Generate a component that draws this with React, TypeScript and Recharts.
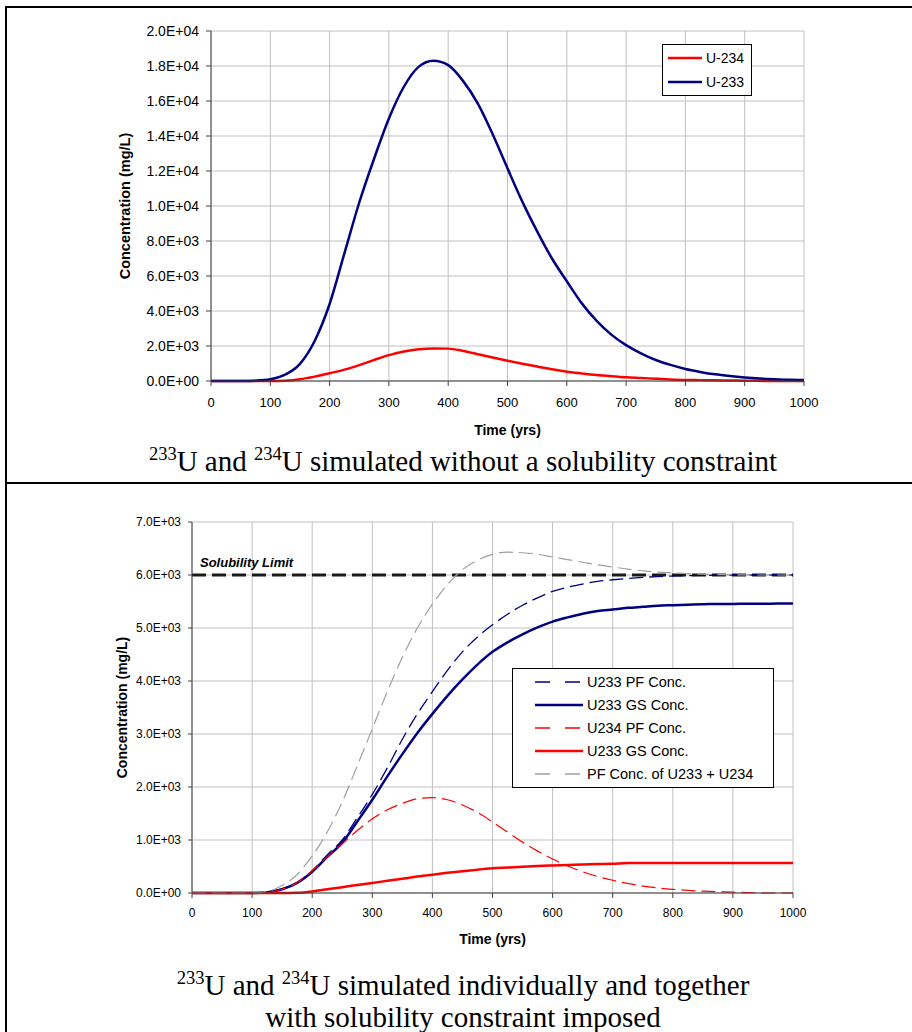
import React from "react";
import {
  CartesianGrid,
  Label,
  Legend,
  Line,
  LineChart,
  ReferenceLine,
  XAxis,
  YAxis,
} from "recharts";

// time axis (yrs)
const YEARS = [
  0, 25, 50, 75, 100, 125, 150, 175, 200, 225, 250, 275, 300, 325, 350, 375,
  400, 425, 450, 475, 500, 525, 550, 575, 600, 625, 650, 675, 700, 725, 750,
  775, 800, 825, 850, 875, 900, 925, 950, 975, 1000,
];
const TIME_TICKS = [0, 100, 200, 300, 400, 500, 600, 700, 800, 900, 1000];

// top chart: no solubility constraint (mg/L)
const U234_FREE = [
  0, 0, 0, 0, 0, 20, 100, 250, 440, 650, 910, 1200, 1480, 1680, 1810, 1860,
  1850, 1720, 1530, 1340, 1160, 990, 830, 670, 530, 430, 340, 270, 210, 170,
  130, 90, 60, 50, 40, 30, 20, 10, 0, 0, 0,
];
const U233_FREE = [
  0, 0, 0, 20, 100, 360, 980, 2300, 4400, 7300, 10200, 12700, 15000, 16800,
  17950, 18300, 18050, 17150, 15850, 14100, 12150, 10250, 8550, 7000, 5700,
  4450, 3450, 2650, 2050, 1580, 1200, 920, 690, 520, 380, 280, 200, 140, 100,
  70, 60,
];
const FREE_TICKS = [
  0, 2000, 4000, 6000, 8000, 10000, 12000, 14000, 16000, 18000, 20000,
];

// bottom chart: solubility constraint imposed (mg/L)
const SOLUBILITY_LIMIT = 6000;
const U233_PF = [
  0, 0, 0, 0, 0, 20, 80, 200, 420, 720, 1000, 1420, 1860, 2360, 2900, 3380,
  3800, 4200, 4550, 4830, 5060, 5260, 5430, 5570, 5690, 5770, 5830, 5880, 5910,
  5935, 5955, 5970, 5980, 5988, 5993, 5997, 6000, 6000, 6000, 6000, 6000,
];
const U233_GS = [
  0, 0, 0, 0, 0, 15, 70, 190, 400, 680, 950, 1350, 1760, 2200, 2620, 3020,
  3380, 3720, 4030, 4310, 4550, 4730, 4880, 5010, 5120, 5200, 5270, 5320, 5350,
  5380, 5400, 5420, 5430, 5440, 5450, 5452, 5455, 5457, 5458, 5460, 5460,
];
const U234_PF = [
  0, 0, 0, 0, 0, 10, 70, 200, 420, 680, 930, 1180, 1400, 1570, 1690, 1780,
  1800, 1760, 1660, 1520, 1340, 1150, 960, 790, 640, 510, 400, 310, 240, 180,
  130, 95, 70, 50, 35, 25, 15, 8, 0, 0, 0,
];
const U234_GS = [
  0, 0, 0, 0, 0, 0, 0, 5, 30, 70, 110, 150, 190, 230, 270, 310, 345, 380, 410,
  440, 465, 480, 495, 510, 520, 530, 540, 545, 550, 566, 566, 566, 566, 566,
  566, 566, 566, 566, 566, 566, 566,
];
const PF_SUM = [
  0, 0, 0, 0, 0, 30, 140, 350, 700, 1150, 1720, 2400, 3100, 3800, 4450, 5000,
  5450, 5820, 6100, 6280, 6390, 6430, 6420, 6390, 6340, 6290, 6240, 6190, 6150,
  6110, 6080, 6055, 6040, 6025, 6015, 6008, 6005, 6002, 6000, 6000, 6000,
];
const LIMITED_TICKS = [0, 1000, 2000, 3000, 4000, 5000, 6000, 7000];

const NAVY = "#000080";
const RED = "#ff0000";
const GRAY = "#a0a0a0";
const AXIS = "#404040";
const GRID = "#c0c0c0";
const SANS = "'Liberation Sans', Arial, sans-serif";
const SERIF = "'Liberation Serif', 'Times New Roman', serif";

const freeData = YEARS.map((t, i) => ({
  t,
  u234: U234_FREE[i],
  u233: U233_FREE[i],
}));

const limitedData = YEARS.map((t, i) => ({
  t,
  u233pf: U233_PF[i],
  u233gs: U233_GS[i],
  u234pf: U234_PF[i],
  u234gs: U234_GS[i],
  sum: PF_SUM[i],
}));

// 20000 -> "2.0E+04"
const sci = (v: number) => {
  const [m, e] = v.toExponential(1).split("e");
  return `${m}E${e[0]}${e.slice(1).padStart(2, "0")}`;
};

const BoxLegend = (props: any) => {
  const { payload = [], order, sample, fontSize, rowHeight, padLeft, boxWidth } =
    props;
  // keep series order instead of the legend's alphabetical sort
  const items = [...payload].sort(
    (a: any, b: any) => order.indexOf(a.dataKey) - order.indexOf(b.dataKey)
  );
  return (
    <div
      style={{
        display: "inline-block",
        width: boxWidth,
        border: "1px solid #000",
        background: "#fff",
        padding: `1px 4px 1px ${padLeft}px`,
        fontFamily: SANS,
        fontSize,
        color: "#000",
        boxSizing: "border-box",
      }}
    >
      {items.map((entry: any) => {
        const dashed = Boolean(entry.payload?.strokeDasharray);
        return (
          <div
            key={entry.dataKey}
            style={{ display: "flex", alignItems: "center", height: rowHeight }}
          >
            <svg width={sample} height={6} style={{ flex: "none" }}>
              <line
                x1={0}
                x2={sample}
                y1={3}
                y2={3}
                stroke={entry.color}
                strokeWidth={dashed ? 1.5 : 2.5}
                strokeDasharray={dashed ? "15 15" : undefined}
              />
            </svg>
            <span style={{ marginLeft: 4, whiteSpace: "nowrap" }}>
              {entry.value}
            </span>
          </div>
        );
      })}
    </div>
  );
};

const FreeChart = () => (
  <LineChart
    width={912}
    height={450}
    data={freeData}
    margin={{ top: 31, right: 108, bottom: 9, left: 0 }}
  >
    <CartesianGrid stroke={GRID} />
    <XAxis
      dataKey="t"
      type="number"
      domain={[0, 1000]}
      ticks={TIME_TICKS}
      interval={0}
      height={60}
      tickSize={5}
      tickMargin={12}
      stroke={AXIS}
      tick={{ fontSize: 13, fill: "#000", fontFamily: SANS }}
    >
      <Label
        value="Time (yrs)"
        position="insideBottom"
        offset={6}
        style={{ fontSize: 14, fontWeight: "bold", fill: "#000", fontFamily: SANS }}
      />
    </XAxis>
    <YAxis
      type="number"
      width={211}
      domain={[0, 20000]}
      ticks={FREE_TICKS}
      interval={0}
      tickFormatter={sci}
      tickSize={5}
      tickMargin={7}
      stroke={AXIS}
      tick={{ fontSize: 14, fill: "#000", fontFamily: SANS }}
    >
      <Label
        value="Concentration (mg/L)"
        angle={-90}
        position="insideLeft"
        offset={125}
        style={{
          fontSize: 14.5,
          fontWeight: "bold",
          fill: "#000",
          fontFamily: SANS,
          textAnchor: "middle",
        }}
      />
    </YAxis>
    <Legend
      layout="horizontal"
      align="center"
      verticalAlign="middle"
      wrapperStyle={{ left: 662, top: 44, width: "auto", height: "auto" }}
      content={(p: any) => (
        <BoxLegend
          {...p}
          order={["u234", "u233"]}
          sample={34}
          fontSize={14}
          rowHeight={24}
          padLeft={5}
          boxWidth={90}
        />
      )}
    />
    <Line
      dataKey="u234"
      name="U-234"
      type="monotone"
      stroke={RED}
      strokeWidth={2.5}
      dot={false}
      activeDot={false}
      isAnimationActive={false}
    />
    <Line
      dataKey="u233"
      name="U-233"
      type="monotone"
      stroke={NAVY}
      strokeWidth={2.5}
      dot={false}
      activeDot={false}
      isAnimationActive={false}
    />
  </LineChart>
);

const LimitedChart = () => (
  <LineChart
    width={912}
    height={470}
    data={limitedData}
    margin={{ top: 32, right: 119, bottom: 7, left: 0 }}
  >
    <CartesianGrid stroke={GRID} />
    <XAxis
      dataKey="t"
      type="number"
      domain={[0, 1000]}
      ticks={TIME_TICKS}
      interval={0}
      height={60}
      tickSize={5}
      tickMargin={10}
      stroke={AXIS}
      tick={{ fontSize: 12, fill: "#000", fontFamily: SANS }}
    >
      <Label
        value="Time (yrs)"
        position="insideBottom"
        offset={9}
        style={{ fontSize: 14, fontWeight: "bold", fill: "#000", fontFamily: SANS }}
      />
    </XAxis>
    <YAxis
      type="number"
      width={192}
      domain={[0, 7000]}
      ticks={LIMITED_TICKS}
      interval={0}
      tickFormatter={sci}
      tickSize={4}
      tickMargin={7}
      stroke={AXIS}
      tick={{ fontSize: 12, fill: "#000", fontFamily: SANS }}
    >
      <Label
        value="Concentration (mg/L)"
        angle={-90}
        position="insideLeft"
        offset={122}
        style={{
          fontSize: 14,
          fontWeight: "bold",
          fill: "#000",
          fontFamily: SANS,
          textAnchor: "middle",
        }}
      />
    </YAxis>
    <ReferenceLine
      y={SOLUBILITY_LIMIT}
      stroke="#1a1a1a"
      strokeWidth={3}
      strokeDasharray="14 6"
    >
      <Label
        value="Solubility Limit"
        position="insideBottomLeft"
        offset={8}
        style={{
          fontSize: 13,
          fontWeight: "bold",
          fontStyle: "italic",
          fill: "#000",
          fontFamily: SANS,
        }}
      />
    </ReferenceLine>
    <Legend
      layout="horizontal"
      align="center"
      verticalAlign="middle"
      wrapperStyle={{ left: 512, top: 178, width: "auto", height: "auto" }}
      content={(p: any) => (
        <BoxLegend
          {...p}
          order={["u233pf", "u233gs", "u234pf", "u234gs", "sum"]}
          sample={48}
          fontSize={14.5}
          rowHeight={23.2}
          padLeft={22}
          boxWidth={262}
        />
      )}
    />
    <Line
      dataKey="u233pf"
      name="U233 PF Conc."
      type="monotone"
      stroke={NAVY}
      strokeWidth={1.3}
      strokeDasharray="14 6"
      dot={false}
      activeDot={false}
      isAnimationActive={false}
    />
    <Line
      dataKey="u233gs"
      name="U233 GS Conc."
      type="monotone"
      stroke={NAVY}
      strokeWidth={2.5}
      dot={false}
      activeDot={false}
      isAnimationActive={false}
    />
    <Line
      dataKey="u234pf"
      name="U234 PF Conc."
      type="monotone"
      stroke={RED}
      strokeWidth={1.2}
      strokeDasharray="14 6"
      dot={false}
      activeDot={false}
      isAnimationActive={false}
    />
    <Line
      dataKey="u234gs"
      name="U233 GS Conc."
      type="monotone"
      stroke={RED}
      strokeWidth={2.5}
      dot={false}
      activeDot={false}
      isAnimationActive={false}
    />
    <Line
      dataKey="sum"
      name="PF Conc. of U233 + U234"
      type="monotone"
      stroke={GRAY}
      strokeWidth={1.2}
      strokeDasharray="14 6"
      dot={false}
      activeDot={false}
      isAnimationActive={false}
    />
  </LineChart>
);

const Caption = ({ y, lines }: { y: number; lines: React.ReactNode[] }) => (
  <svg
    width={912}
    height={80}
    style={{ position: "absolute", left: 0, top: y - 40 }}
  >
    {lines.map((line, i) => (
      <text
        key={i}
        x={463}
        y={40 + i * 32}
        textAnchor="middle"
        fontFamily={SERIF}
        fontSize={29}
        fill="#000"
      >
        {line}
      </text>
    ))}
  </svg>
);

const Iso = ({ n }: { n: string }) => (
  <>
    <tspan fontSize={18.5} dy={-11}>
      {n}
    </tspan>
    <tspan dy={11}>U</tspan>
  </>
);

export default function App() {
  return (
    <div
      style={{
        position: "absolute",
        left: 0,
        top: 0,
        width: 912,
        height: 1032,
        overflow: "hidden",
        background: "#fff",
        fontFamily: SANS,
      }}
    >
      {/* table rules */}
      <div style={{ position: "absolute", left: 5, top: 6, width: 907, height: 2, background: "#000" }} />
      <div style={{ position: "absolute", left: 5, top: 6, width: 2, height: 1026, background: "#000" }} />
      <div style={{ position: "absolute", left: 5, top: 482, width: 907, height: 2, background: "#000" }} />

      <div style={{ position: "absolute", left: 0, top: 0 }}>
        <FreeChart />
      </div>
      <Caption
        y={471}
        lines={[
          <>
            <Iso n="233" /> and <Iso n="234" /> simulated without a solubility
            constraint
          </>,
        ]}
      />

      <div style={{ position: "absolute", left: 0, top: 490 }}>
        <LimitedChart />
      </div>
      <Caption
        y={995}
        lines={[
          <>
            <Iso n="233" /> and <Iso n="234" /> simulated individually and
            together
          </>,
          <>with solubility constraint imposed</>,
        ]}
      />
    </div>
  );
}
